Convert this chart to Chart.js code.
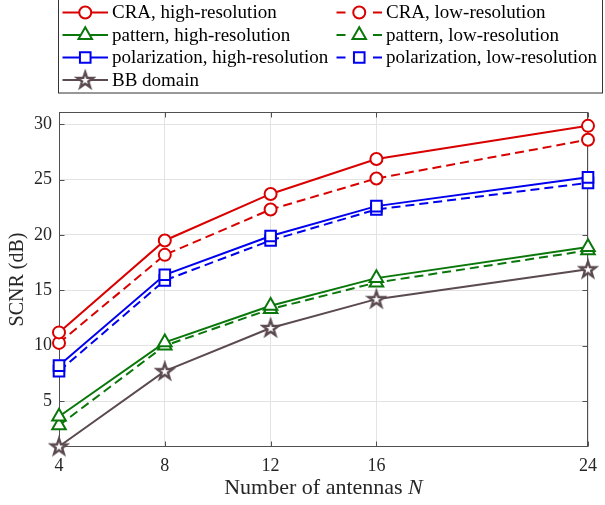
<!DOCTYPE html>
<html><head><meta charset="utf-8">
<script src="https://cdn.jsdelivr.net/npm/chart.js@4/dist/chart.umd.min.js"></script>
<style>html,body{margin:0;padding:0;background:#fff;overflow:hidden}</style>
</head><body>
<canvas id="c" width="605" height="505"></canvas>
<script>
// ---- data ----
const antennas = [4, 8, 12, 16, 24];
const xTickValues = [4, 8, 12, 16, 24];
const yTickValues = [5, 10, 15, 20, 25, 30];
const craHigh = [11.2, 19.5, 23.7, 26.85, 29.85];
const craLow = [10.25, 18.2, 22.3, 25.1, 28.6];
const patternHigh = [3.6, 10.3, 13.6, 16.1, 18.9];
const patternLow = [2.8, 10.0, 13.3, 15.7, 18.6];
const polHigh = [8.2, 16.4, 19.9, 22.6, 25.2];
const polLow = [7.7, 15.9, 19.5, 22.3, 24.7];
const bbDomain = [0.9, 7.7, 11.6, 14.2, 16.9];
const seriesLabels = ['CRA, high-resolution', 'CRA, low-resolution', 'pattern, high-resolution', 'pattern, low-resolution', 'polarization, high-resolution', 'polarization, low-resolution', 'BB domain'];
const xTitle = 'Number of antennas ';
const xTitleVar = 'N';
const yTitle = 'SCNR (dB)';

// ---- styles ----
const RED = '#d90000', GREEN = '#0a770a', BLUE = '#0000ee', BROWN = '#5b4a50';
const FONT = "'Liberation Serif', 'Times New Roman', serif";
const TXT = '#262626';

function starCanvas(color) {
  const c = document.createElement('canvas');
  c.width = 22; c.height = 22;
  const g = c.getContext('2d');
  const R = 8.3, r = 3.3;
  g.beginPath();
  for (let i = 0; i < 10; i++) {
    const a = -Math.PI / 2 + i * Math.PI / 5;
    const rr = i % 2 ? r : R;
    g.lineTo(11 + rr * Math.cos(a), 11.5 + rr * Math.sin(a));
  }
  g.closePath();
  g.fillStyle = '#fff'; g.fill();
  g.lineWidth = 2.4; g.lineJoin = 'miter'; g.strokeStyle = color; g.stroke();
  return c;
}
const starImg = starCanvas(BROWN);

function mk(label, values, color, dashed, pointStyle, radius) {
  return {
    label, data: antennas.map((x, i) => ({x, y: values[i]})),
    borderColor: color, backgroundColor: '#fff', borderWidth: 2,
    borderDash: dashed ? [9, 5] : [], pointStyle, pointRadius: radius,
    pointBorderWidth: 2, pointBorderColor: color, pointBackgroundColor: '#fff',
    tension: 0, fill: false, clip: false, _dashed: dashed, _color: color
  };
}

const datasets = [
  mk(seriesLabels[0], craHigh, RED, false, 'circle', 6),
  mk(seriesLabels[1], craLow, RED, true, 'circle', 6),
  mk(seriesLabels[2], patternHigh, GREEN, false, 'triangle', 7.8),
  mk(seriesLabels[3], patternLow, GREEN, true, 'triangle', 7.8),
  mk(seriesLabels[4], polHigh, BLUE, false, 'rect', 7.5),
  mk(seriesLabels[5], polLow, BLUE, true, 'rect', 7.5),
  mk(seriesLabels[6], bbDomain, BROWN, false, starImg, 8)
];

const framePlugin = {
  id: 'frame',
  beforeDatasetsDraw(chart) {
    const {ctx, chartArea: a, scales} = chart;
    const L = Math.round(a.left) + 0.5, R = Math.round(a.right) - 0.5;
    const T = Math.round(a.top) + 0.5, B = Math.round(a.bottom) - 0.5;
    ctx.save();
    ctx.strokeStyle = '#505050'; ctx.lineWidth = 1;
    ctx.strokeRect(L, T, R - L, B - T);
    ctx.beginPath();
    xTickValues.forEach(v => {
      const x = Math.round(scales.x.getPixelForValue(v)) + 0.5;
      ctx.moveTo(x, B); ctx.lineTo(x, B - 5);
      ctx.moveTo(x, T); ctx.lineTo(x, T + 5);
    });
    yTickValues.forEach(v => {
      const y = Math.round(scales.y.getPixelForValue(v)) + 0.5;
      ctx.moveTo(L, y); ctx.lineTo(L + 5, y);
      ctx.moveTo(R, y); ctx.lineTo(R - 5, y);
    });
    ctx.stroke();
    ctx.restore();
  },
  afterDraw(chart) {
    const {ctx, chartArea: a} = chart;
    ctx.save();
    ctx.fillStyle = TXT;
    ctx.textBaseline = 'middle';
    const f1 = "22px " + FONT, f2 = "italic 22px " + FONT;
    ctx.font = f1; const w1 = ctx.measureText(xTitle).width;
    ctx.font = f2; const w2 = ctx.measureText(xTitleVar).width;
    const cx = (a.left + a.right) / 2, y = 488;
    let x = cx - (w1 + w2) / 2;
    ctx.textAlign = 'left';
    ctx.font = f1; ctx.fillText(xTitle, x, y);
    ctx.font = f2; ctx.fillText(xTitleVar, x + w1, y);
    ctx.restore();
  }
};

const legendPlugin = {
  id: 'mlegend',
  afterDraw(chart) {
    const ctx = chart.ctx;
    ctx.save();
    ctx.fillStyle = '#fff';
    ctx.fillRect(58.5, -5, 544, 98);
    ctx.strokeStyle = '#333'; ctx.lineWidth = 1;
    ctx.strokeRect(58.5, -5, 544, 98);
    chart.data.datasets.forEach((ds, i) => {
      const col = i < 6 ? i % 2 : 0;
      const row = i < 6 ? Math.floor(i / 2) : 3;
      const x0 = col ? 336.5 : 62.5, x1 = x0 + 45.5, mid = (x0 + x1) / 2;
      const y = 12.5 + row * 22.5;
      ctx.strokeStyle = ds._color; ctx.lineWidth = 2; ctx.setLineDash([]);
      ctx.beginPath();
      if (ds._dashed) {
        ctx.moveTo(x0, y); ctx.lineTo(x0 + 9, y);
        ctx.moveTo(x1 - 9, y); ctx.lineTo(x1, y);
      } else {
        ctx.moveTo(x0, y); ctx.lineTo(x1, y);
      }
      ctx.stroke();
      if (ds.pointStyle instanceof HTMLCanvasElement) {
        ctx.drawImage(ds.pointStyle, mid - 11, y - 11);
      } else {
        ctx.fillStyle = '#fff';
        Chart.helpers.drawPoint(ctx, {pointStyle: ds.pointStyle, radius: ds.pointRadius, rotation: 0, borderWidth: 2}, mid, y);
      }
      ctx.fillStyle = '#000';
      ctx.font = "19px " + FONT;
      ctx.textAlign = 'left'; ctx.textBaseline = 'middle';
      ctx.fillText(ds.label, x1 + 4, y + 1);
    });
    ctx.restore();
  }
};

new Chart(document.getElementById('c'), {
  type: 'line',
  data: {datasets},
  options: {
    responsive: false, animation: false, devicePixelRatio: 1,
    layout: {padding: {top: 112, right: 8, left: 0, bottom: 0}},
    plugins: {legend: {display: false}, tooltip: {enabled: false}},
    scales: {
      x: {
        type: 'linear', min: 4, max: 24,
        afterBuildTicks: s => { s.ticks = xTickValues.map(v => ({value: v})); },
        afterFit: s => { s.height = 58; },
        grid: {color: '#e3e3e3', drawTicks: false},
        border: {display: false},
        ticks: {padding: 8, color: TXT, font: {family: FONT, size: 18}, maxRotation: 0, autoSkip: false}
      },
      y: {
        type: 'linear', min: 0.85, max: 31.1,
        afterBuildTicks: s => { s.ticks = yTickValues.map(v => ({value: v})); },
        afterFit: s => { s.width = 59; },
        grid: {color: '#e3e3e3', drawTicks: false},
        border: {display: false},
        ticks: {padding: 7, color: TXT, font: {family: FONT, size: 18}, autoSkip: false},
        title: {display: true, text: yTitle, color: TXT, font: {family: FONT, size: 20}, padding: {top: 6, bottom: 0}}
      }
    }
  },
  plugins: [framePlugin, legendPlugin]
});
</script>
</body></html>
